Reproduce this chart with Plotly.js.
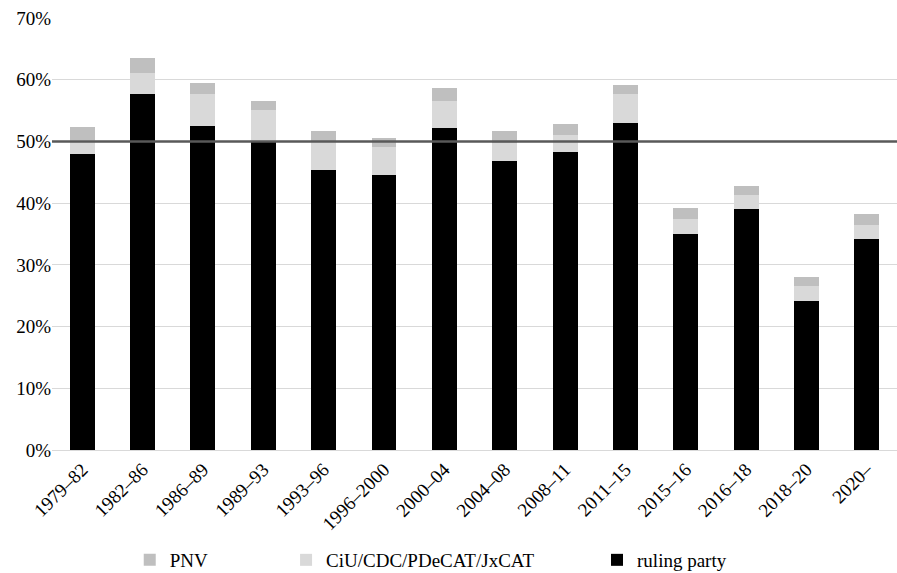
<!DOCTYPE html>
<html>
<head>
<meta charset="utf-8">
<script src="https://cdn.plot.ly/plotly-3.0.1.min.js"></script>
<style>html,body{margin:0;padding:0;background:#fff;}#chart{width:897px;height:573px;}</style>
</head>
<body>
<div id="chart"></div>
<script>
const periods = ["1979–82","1982–86","1986–89","1989–93","1993–96","1996–2000","2000–04","2004–08","2008–11","2011–15","2015–16","2016–18","2018–20","2020–"];
const rulingParty = [47.9,57.7,52.5,50.0,45.4,44.6,52.2,46.8,48.3,53.0,35.0,39.1,24.1,34.2];
const ciu = [2.4,3.4,5.2,5.1,4.7,4.5,4.4,2.9,2.8,4.7,2.4,2.2,2.5,2.3];
const pnv = [2.0,2.4,1.8,1.5,1.6,1.5,2.1,2.0,1.7,1.5,1.8,1.5,1.4,1.7];
const thresholdValue = 50;

const font = {family: "Liberation Serif, Times New Roman, serif", size: 19, color: "#000"};

const traces = [
  {type:"bar", name:"ruling party", x:periods, y:rulingParty, marker:{color:"#000000"}, legend:"legend3", hoverinfo:"skip"},
  {type:"bar", name:"CiU/CDC/PDeCAT/JxCAT", x:periods, y:ciu, marker:{color:"#d9d9d9"}, legend:"legend2", hoverinfo:"skip"},
  {type:"bar", name:"PNV", x:periods, y:pnv, marker:{color:"#bfbfbf"}, legend:"legend", hoverinfo:"skip"}
];

const legBase = {orientation:"h", yanchor:"middle", y:-0.2546, xanchor:"left", font:font, bgcolor:"rgba(0,0,0,0)", itemwidth:30};

const layout = {
  width:897, height:573,
  margin:{l:52, r:0, t:18, b:123, autoexpand:false},
  paper_bgcolor:"#fff", plot_bgcolor:"#fff",
  barmode:"stack", bargap:0.587,
  font:font,
  showlegend:true,
  legend: Object.assign({}, legBase, {x:0.092}),
  legend2: Object.assign({}, legBase, {x:0.277}),
  legend3: Object.assign({}, legBase, {x:0.645}),
  xaxis:{type:"category", tickangle:-45, showgrid:false, showline:true, linecolor:"#d9d9d9", linewidth:1, ticks:"", tickfont:font, fixedrange:true, automargin:false},
  yaxis:{range:[0,70], dtick:10, ticksuffix:"%", showgrid:true, gridcolor:"#d9d9d9", gridwidth:1, zeroline:false, showline:false, ticks:"", tickfont:font, fixedrange:true, automargin:false},
  shapes:[{type:"line", xref:"paper", x0:0, x1:1, yref:"y", y0:thresholdValue, y1:thresholdValue, line:{color:"#595959", width:2.5}, layer:"above"}]
};

Plotly.newPlot("chart", traces, layout, {displayModeBar:false, staticPlot:true});
</script>
</body>
</html>
